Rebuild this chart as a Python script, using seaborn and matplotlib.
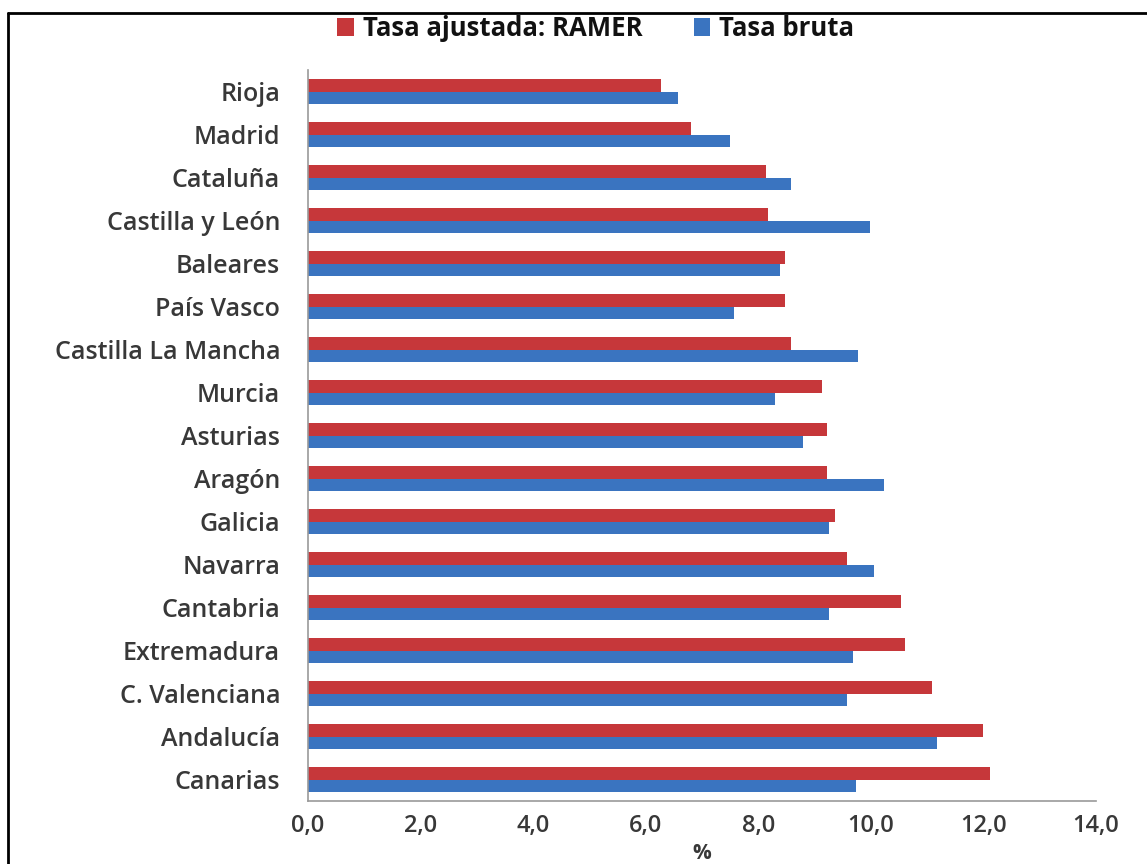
import matplotlib
matplotlib.use('Agg')
import matplotlib.pyplot as plt
from matplotlib.lines import Line2D
from matplotlib.ticker import FixedLocator
import numpy as np
import pandas as pd
import seaborn as sns

# comunidades, de arriba a abajo
regiones = ['Rioja', 'Madrid', 'Cataluña', 'Castilla y León', 'Baleares', 'País Vasco',
            'Castilla La Mancha', 'Murcia', 'Asturias', 'Aragón', 'Galicia', 'Navarra',
            'Cantabria', 'Extremadura', 'C. Valenciana', 'Andalucía', 'Canarias']
tasa_ramer = [6.28, 6.80, 8.14, 8.18, 8.48, 8.47, 8.59, 9.14, 9.22, 9.22, 9.37, 9.57,
              10.53, 10.61, 11.09, 11.99, 12.11]
tasa_bruta = [6.57, 7.49, 8.59, 9.98, 8.38, 7.57, 9.77, 8.30, 8.79, 10.23, 9.25, 10.05,
              9.25, 9.69, 9.57, 11.18, 9.74]
series = ['Tasa ajustada: RAMER', 'Tasa bruta']
x_ticks = np.arange(0, 14.1, 2)

df = pd.DataFrame({
    'region': regiones * 2,
    'valor': tasa_ramer + tasa_bruta,
    'serie': [series[0]] * len(regiones) + [series[1]] * len(regiones),
})

sns.set_style('white')
plt.rcParams['font.family'] = ['Open Sans', 'DejaVu Sans']
texto = '#383838'

fig = plt.figure(figsize=(11.47, 8.64), dpi=100)
ax = fig.add_axes([0.2685, 0.0729, 0.687, 0.846])

sns.barplot(data=df, x='valor', y='region', hue='serie', hue_order=series,
            order=regiones, palette=['#C6373A', '#3A74C0'], width=0.6,
            orient='h', ax=ax, saturation=1, edgecolor='none')

ax.set_xlim(0, 14)
ax.set_ylim(len(regiones) - 0.5, -0.5)
ax.set_xticks(x_ticks)
ax.set_xticklabels([f'{t:.1f}'.replace('.', ',') for t in x_ticks],
                   fontsize=17, fontweight='semibold', color=texto)
ax.tick_params(axis='x', length=3.5, width=1, color='#999999', pad=6)

# marcas del eje y entre categorias
ax.tick_params(axis='y', which='major', length=0, pad=20)
ax.yaxis.set_minor_locator(FixedLocator(np.arange(-0.5, len(regiones), 1)))
ax.tick_params(axis='y', which='minor', length=7, width=1, color='#999999')
for lab in ax.get_yticklabels():
    lab.set_fontsize(18)
    lab.set_fontweight('semibold')
    lab.set_color(texto)

ax.set_xlabel('%', fontsize=15, fontweight='bold', color=texto)
ax.xaxis.set_label_coords(0.5, -0.058)
ax.set_ylabel('')

for s in ['top', 'right']:
    ax.spines[s].set_visible(False)
for s in ['left', 'bottom']:
    ax.spines[s].set_color('#999999')
    ax.spines[s].set_linewidth(1.2)

ax.legend(loc='upper center', bbox_to_anchor=(0.365, 1.107), ncol=2, frameon=False,
          prop={'size': 18.5, 'weight': 'bold'}, handlelength=0.65, handleheight=0.65,
          handletextpad=0.35, columnspacing=2.0, labelcolor='#111111')

# marco de la imagen
fig.add_artist(Line2D([0.007, 1.0], [0.985, 0.985], transform=fig.transFigure, color='black', lw=2))
fig.add_artist(Line2D([0.007, 0.007], [0.0, 0.985], transform=fig.transFigure, color='black', lw=2))

fig.savefig('out.png', dpi=100)
